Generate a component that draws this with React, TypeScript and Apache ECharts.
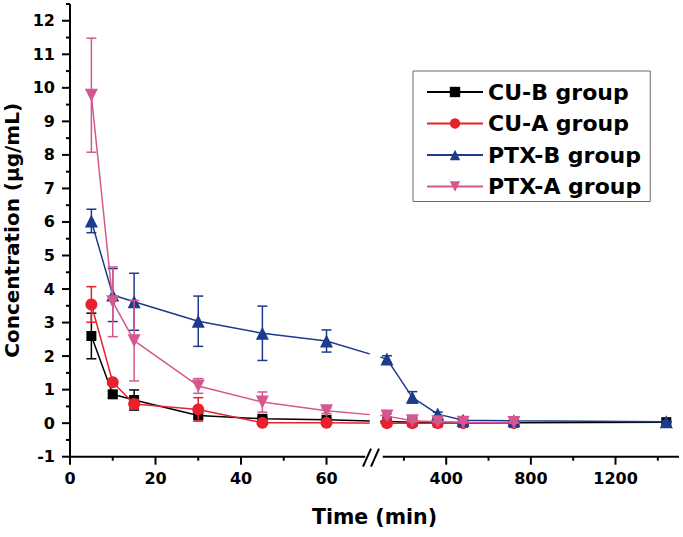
import React, { useEffect, useRef } from 'react';
import * as echarts from 'echarts';

// ---- data ----
const times = [5, 10, 15, 30, 45, 60, 120, 240, 360, 480, 720, 1440];
const seriesNames = ['CU-B group', 'CU-A group', 'PTX-B group', 'PTX-A group'];

const cuB = [2.6, 0.86, 0.69, 0.23, 0.13, 0.1, 0.05, 0.03, 0.02, 0.01, 0.01, 0.03];
const cuBErr = [0.68, 0.1, 0.3, 0.08, 0.06, 0.04, 0.03, 0.02, 0.02, 0.01, 0.01, 0.01];

const cuA = [3.54, 1.22, 0.57, 0.41, 0.01, 0.01, 0.0, 0.0, 0.0, 0.0, 0.0];
const cuAErr = [0.53, 0.08, 0.13, 0.35, 0.02, 0.02, 0.01, 0.01, 0.01, 0.01, 0.01];

const ptxB = [6.03, 3.82, 3.62, 3.04, 2.68, 2.45, 1.91, 0.77, 0.27, 0.09, 0.07, 0.04];
const ptxBErr = [0.35, 0.79, 0.85, 0.75, 0.81, 0.33, 0.1, 0.17, 0.06, 0.03, 0.03, 0.02];

const ptxA = [9.78, 3.62, 2.46, 1.11, 0.63, 0.37, 0.21, 0.07, 0.04, 0.03, 0.02];
const ptxAErr = [1.7, 1.04, 1.2, 0.22, 0.3, 0.08, 0.06, 0.03, 0.02, 0.02, 0.02];

// ---- tick labels ----
const xMajorTicks = [0, 20, 40, 60, 400, 800, 1200];
const xMinorTicks = [10, 30, 50, 200, 600, 1000, 1400];
const yMajorTicks = [-1, 0, 1, 2, 3, 4, 5, 6, 7, 8, 9, 10, 11, 12];
const yMinorTicks = [-0.5, 0.5, 1.5, 2.5, 3.5, 4.5, 5.5, 6.5, 7.5, 8.5, 9.5, 10.5, 11.5, 12.5];

// ---- broken x axis mapping ----
const LEFT_END = 70;
const RIGHT_START = 100;
const RIGHT_END = 1500;
const RIGHT_START_U = 73.15;
const RIGHT_SCALE = 0.0495;
const tx = (t: number) => (t <= LEFT_END ? t : RIGHT_START_U + (t - RIGHT_START) * RIGHT_SCALE);
const untx = (u: number) =>
  u <= LEFT_END + 0.5 ? u : (u - RIGHT_START_U) / RIGHT_SCALE + RIGHT_START;
const U_MAX = tx(RIGHT_END);
const Y_MIN = -1;
const Y_MAX = 12.5;

const W = 683;
const H = 537;
const FONT = 'DejaVu Sans';
const colors = ['#000000', '#e8212c', '#1d3a8c', '#d4588f'];
const symbols = ['rect', 'circle', 'triangle', 'triangle'];
const symbolSizes = [10, 12, 13, 13];
const symbolRotates = [0, 0, 0, 180];
const values = [cuB, cuA, ptxB, ptxA];
const errors = [cuBErr, cuAErr, ptxBErr, ptxAErr];

export default function App() {
  const ref = useRef<HTMLDivElement>(null);

  useEffect(() => {
    if (!ref.current) return;
    const chart = echarts.init(ref.current, undefined, { renderer: 'svg' });

    const series: any[] = [];
    values.forEach((vals, si) => {
      const color = colors[si];
      series.push({
        name: seriesNames[si],
        type: 'line',
        data: vals.map((v, i) => [tx(times[i]), v]),
        symbol: symbols[si],
        symbolSize: symbolSizes[si],
        symbolRotate: symbolRotates[si],
        lineStyle: { color, width: 1.5 },
        itemStyle: { color },
        z: 3 + si,
      });
      series.push({
        name: seriesNames[si] + ' error',
        type: 'custom',
        data: vals.map((v, i) => [tx(times[i]), v - errors[si][i], v + errors[si][i]]),
        encode: { x: 0, y: [1, 2] },
        z: 3 + si,
        renderItem: (params: any, api: any) => {
          const x = api.value(0);
          const lo = api.coord([x, api.value(1)]);
          const hi = api.coord([x, api.value(2)]);
          const hw = 5;
          const style = { stroke: color, lineWidth: 1.5 };
          return {
            type: 'group',
            children: [
              { type: 'line', shape: { x1: hi[0], y1: hi[1], x2: lo[0], y2: lo[1] }, style },
              { type: 'line', shape: { x1: hi[0] - hw, y1: hi[1], x2: hi[0] + hw, y2: hi[1] }, style },
              { type: 'line', shape: { x1: lo[0] - hw, y1: lo[1], x2: lo[0] + hw, y2: lo[1] }, style },
            ],
          };
        },
      });
    });

    const option: any = {
      animation: false,
      grid: { left: 70, top: 4, right: 4, bottom: 80.3, containLabel: false, outerBoundsMode: 'none' },
      legend: {
        orient: 'vertical',
        left: 413,
        top: 71,
        data: seriesNames,
        itemWidth: 56,
        itemHeight: 13,
        itemGap: 9.5,
        padding: [10, 9, 4, 13],
        borderColor: '#6b6b6b',
        borderWidth: 1,
        backgroundColor: '#ffffff',
        textStyle: { fontFamily: FONT, fontWeight: 'bold', fontSize: 22, lineHeight: 22, color: '#000' },
      },
      xAxis: {
        type: 'value',
        min: 0,
        max: U_MAX,
        name: 'Time (min)',
        nameLocation: 'middle',
        nameGap: 50,
        nameTextStyle: { fontFamily: FONT, fontWeight: 'bold', fontSize: 20.5, color: '#000' },
        axisLine: { show: false, onZero: false },
        axisTick: { show: false },
        axisLabel: {
          customValues: xMajorTicks.map(tx),
          formatter: (u: number) => String(Math.round(untx(u))),
          margin: 14,
          fontFamily: FONT,
          fontWeight: 'bold',
          fontSize: 16,
          color: '#000',
        },
        splitLine: { show: false },
      },
      yAxis: {
        type: 'value',
        min: Y_MIN,
        max: Y_MAX,
        name: 'Concentration (μg/mL)',
        nameLocation: 'middle',
        nameGap: 45,
        nameTextStyle: { fontFamily: FONT, fontWeight: 'bold', fontSize: 20, color: '#000' },
        axisLine: { show: false, onZero: false },
        axisTick: { show: false },
        axisLabel: {
          customValues: yMajorTicks,
          margin: 15,
          fontFamily: FONT,
          fontWeight: 'bold',
          fontSize: 16,
          color: '#000',
        },
        splitLine: { show: false },
      },
      series,
    };

    chart.setOption(option);

    // axis lines, ticks and break marks, positioned through the axes' own scales
    const X = (t: number) => chart.convertToPixel({ xAxisIndex: 0 }, tx(t)) as number;
    const Y = (v: number) => chart.convertToPixel({ yAxisIndex: 0 }, v) as number;
    const x0 = X(0);
    const y0 = Y(Y_MIN);
    const yTop = Y(Y_MAX);
    const pxL = X(LEFT_END);
    const pxR = X(RIGHT_START);
    const c = (pxL + pxR) / 2;
    const stroke = { stroke: '#000000', lineWidth: 2 };
    const ln = (x1: number, y1: number, x2: number, y2: number, z = 101) => ({
      type: 'line',
      z,
      silent: true,
      shape: { x1, y1, x2, y2 },
      style: { ...stroke },
    });

    const graphic: any[] = [
      {
        type: 'rect',
        z: 100,
        silent: true,
        shape: { x: pxL + 0.5, y: yTop, width: pxR - pxL - 3, height: y0 - yTop - 3 },
        style: { fill: '#ffffff' },
      },
      ln(x0, y0 + 1, x0, yTop),
      ln(x0 - 1, y0, pxL - 4, y0),
      ln(pxR, y0, X(RIGHT_END), y0),
      ln(c - 13, y0 + 10, c - 5, y0 - 8),
      ln(c - 5, y0 + 10, c + 3, y0 - 8),
    ];
    xMajorTicks.forEach((t) => graphic.push(ln(X(t), y0, X(t), y0 + 8)));
    xMinorTicks.forEach((t) => graphic.push(ln(X(t), y0, X(t), y0 + 4)));
    yMajorTicks.forEach((v) => graphic.push(ln(x0 - 8, Y(v), x0, Y(v))));
    yMinorTicks.forEach((v) => graphic.push(ln(x0 - 4, Y(v), x0, Y(v))));

    chart.setOption({ graphic });

    return () => chart.dispose();
  }, []);

  return (
    <div
      ref={ref}
      style={{ position: 'fixed', left: 0, top: 0, width: W, height: H, background: '#fff' }}
    />
  );
}
